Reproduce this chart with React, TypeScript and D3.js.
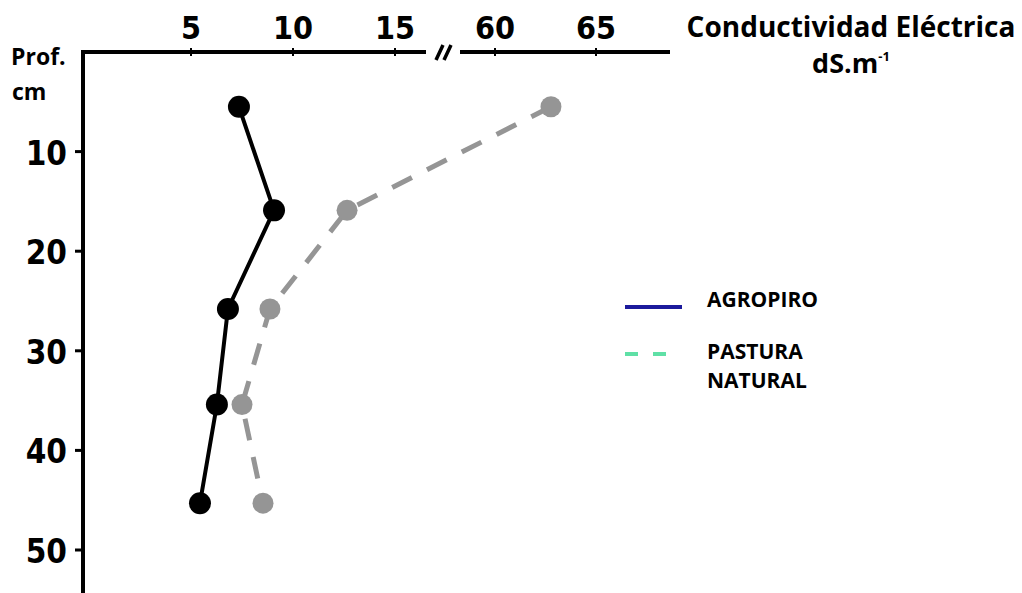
import React, { useRef, useEffect } from 'react'
import * as d3 from "d3";

// depth (cm) of each sample
const depths = [5.5, 15.9, 25.8, 35.4, 45.3];
// conductivity (dS/m)
const agropiro = [7.35, 9.07, 6.81, 6.27, 5.44];
const pastura = [62.77, 12.65, 8.87, 7.5, 8.53];

const lowTicks = [5, 10, 15];
const highTicks = [60, 65];
const depthTicks = [10, 20, 30, 40, 50];

const legendItems = ["AGROPIRO", "PASTURA"];

export default function App() {
    const ref = useRef(null);

    useEffect(() => {
        const svg = d3.select(ref.current);
        svg.selectAll("*").remove();

        const font = "'Open Sans', 'DejaVu Sans', sans-serif";
        const numFont = "'Liberation Sans Narrow', 'DejaVu Sans Condensed', sans-serif";

        // broken x axis: two linear scales
        const xLow = d3.scaleLinear().domain([0, 15]).range([89, 395]);
        const xHigh = d3.scaleLinear().domain([60, 65]).range([495, 596]);
        const x = v => (v < 30 ? xLow(v) : xHigh(v));
        const y = d3.scaleLinear().domain([0, 50]).range([52, 550]);

        // top axis segments
        svg.append("line").attr("x1", 81).attr("x2", 426).attr("y1", 52).attr("y2", 52)
            .attr("stroke", "#000").attr("stroke-width", 4);
        svg.append("line").attr("x1", 460).attr("x2", 670).attr("y1", 52).attr("y2", 52)
            .attr("stroke", "#000").attr("stroke-width", 4);
        // break marks
        [0, 8].forEach(dx => {
            svg.append("line")
                .attr("x1", 436 + dx).attr("y1", 60).attr("x2", 443 + dx).attr("y2", 45)
                .attr("stroke", "#000").attr("stroke-width", 3.5);
        });

        const topTicks = [
            ...lowTicks.map(t => ({ v: t, px: xLow(t) })),
            ...highTicks.map(t => ({ v: t, px: xHigh(t) })),
        ];
        const tg = svg.append("g");
        tg.selectAll("line").data(topTicks).enter().append("line")
            .attr("x1", d => d.px).attr("x2", d => d.px)
            .attr("y1", 48).attr("y2", 56)
            .attr("stroke", "#000").attr("stroke-width", 2);
        tg.selectAll("text").data(topTicks).enter().append("text")
            .attr("x", d => d.px).attr("y", 39)
            .attr("text-anchor", "middle")
            .style("font-family", numFont).style("font-weight", 700).style("font-size", "32px")
            .text(d => d.v);

        // left axis
        svg.append("line").attr("x1", 83).attr("x2", 83).attr("y1", 50).attr("y2", 593)
            .attr("stroke", "#000").attr("stroke-width", 4);
        const lg = svg.append("g");
        lg.selectAll("line").data(depthTicks).enter().append("line")
            .attr("x1", 75).attr("x2", 83)
            .attr("y1", d => y(d)).attr("y2", d => y(d))
            .attr("stroke", "#000").attr("stroke-width", 3);
        lg.selectAll("text").data(depthTicks).enter().append("text")
            .attr("x", 67).attr("y", d => y(d) + 13)
            .attr("text-anchor", "end")
            .style("font-family", numFont).style("font-weight", 700).style("font-size", "33px")
            .text(d => d);

        svg.append("text").attr("x", 11).attr("y", 65)
            .style("font-family", font).style("font-weight", 700).style("font-size", "23px")
            .text("Prof.");
        svg.append("text").attr("x", 12).attr("y", 100)
            .style("font-family", font).style("font-weight", 700).style("font-size", "23px")
            .text("cm");

        // axis title
        svg.append("text").attr("x", 851).attr("y", 37).attr("text-anchor", "middle")
            .style("font-family", font).style("font-weight", 700).style("font-size", "28px")
            .text("Conductividad Eléctrica");
        const unit = svg.append("text").attr("x", 851).attr("y", 73).attr("text-anchor", "middle")
            .style("font-family", font).style("font-weight", 700).style("font-size", "27px");
        unit.append("tspan").text("dS.m");
        unit.append("tspan").attr("dy", -12).style("font-size", "13px").text("-1");

        const line = d3.line()
            .x(d => x(d[0]))
            .y(d => y(d[1]));

        const pData = pastura.map((v, i) => [v, depths[i]]);
        const aData = agropiro.map((v, i) => [v, depths[i]]);

        // pastura natural (gray dashed)
        svg.append("path").attr("d", line(pData))
            .attr("fill", "none").attr("stroke", "#959595")
            .attr("stroke-width", 5).attr("stroke-dasharray", "22,17");
        svg.selectAll(".pp").data(pData).enter().append("circle")
            .attr("class", "pp")
            .attr("cx", d => x(d[0])).attr("cy", d => y(d[1])).attr("r", 10.5)
            .attr("fill", "#959595");

        // agropiro (black solid)
        svg.append("path").attr("d", line(aData))
            .attr("fill", "none").attr("stroke", "#000").attr("stroke-width", 4);
        svg.selectAll(".ap").data(aData).enter().append("circle")
            .attr("class", "ap")
            .attr("cx", d => x(d[0])).attr("cy", d => y(d[1])).attr("r", 11)
            .attr("fill", "#000");

        // legend
        svg.append("line").attr("x1", 625).attr("x2", 682).attr("y1", 307).attr("y2", 307)
            .attr("stroke", "#1c1a9c").attr("stroke-width", 4);
        svg.append("line").attr("x1", 625).attr("x2", 668).attr("y1", 354).attr("y2", 354)
            .attr("stroke", "#5fe0a6").attr("stroke-width", 4).attr("stroke-dasharray", "13,15");
        const legText = svg.append("g")
            .style("font-family", font).style("font-weight", 700).style("font-size", "21px");
        legText.append("text").attr("x", 707).attr("y", 307).text(legendItems[0]);
        legText.append("text").attr("x", 707).attr("y", 359).text(legendItems[1]);
        legText.append("text").attr("x", 707).attr("y", 388).text("NATURAL");
    }, []);

    return (
        <div style={{ position: "absolute", left: 0, top: 0 }}>
            <svg ref={ref} width={1022} height={593} style={{ display: "block", background: "#fff" }}></svg>
        </div>
    );
}
